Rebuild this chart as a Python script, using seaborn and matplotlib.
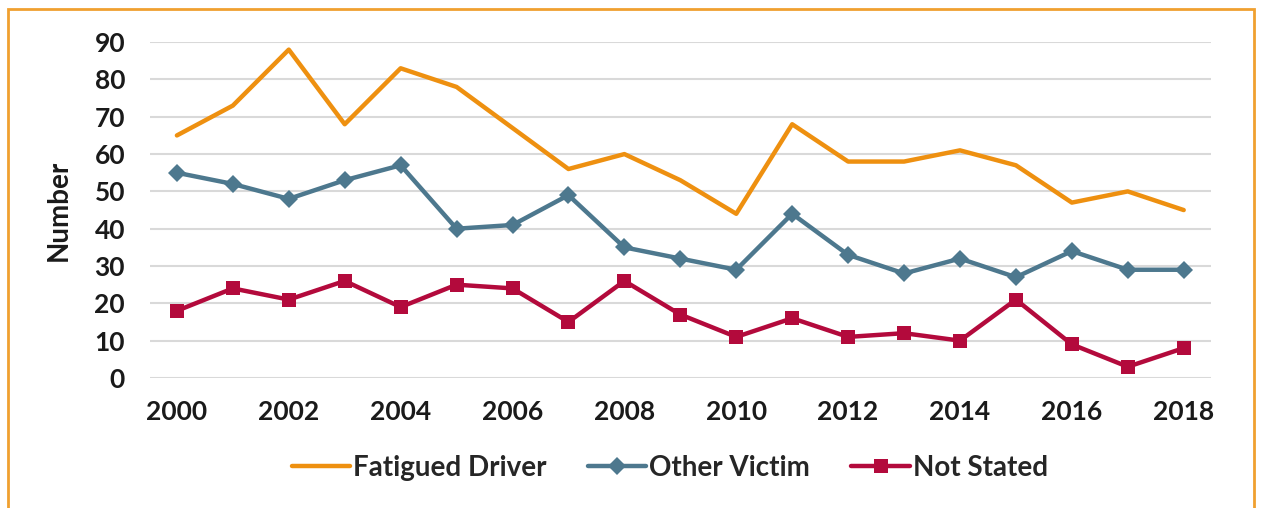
import pandas as pd
import matplotlib.pyplot as plt
import seaborn as sns
from matplotlib.patches import Rectangle

years = list(range(2000, 2019))
fatigued = [65, 73, 88, 68, 83, 78, 67, 56, 60, 53, 44, 68, 58, 58, 61, 57, 47, 50, 45]
other = [55, 52, 48, 53, 57, 40, 41, 49, 35, 32, 29, 44, 33, 28, 32, 27, 34, 29, 29]
not_stated = [18, 24, 21, 26, 19, 25, 24, 15, 26, 17, 11, 16, 11, 12, 10, 21, 9, 3, 8]

series = ['Fatigued Driver', 'Other Victim', 'Not Stated']
colors = {'Fatigued Driver': '#EE9010', 'Other Victim': '#4D788E', 'Not Stated': '#B30A3C'}
markers = {'Fatigued Driver': None, 'Other Victim': 'D', 'Not Stated': 's'}

df = pd.DataFrame({'year': years * 3,
                   'value': fatigued + other + not_stated,
                   'series': [s for s in series for _ in years]})

sns.set_theme(style='white')
plt.rcParams['font.family'] = ['Lato', 'DejaVu Sans']

fig = plt.figure(figsize=(12.61, 5.08), dpi=100)
ax = fig.add_axes([0.119, 0.256, 0.841, 0.661])

for s in series:
    sub = df[df['series'] == s]
    sns.lineplot(data=sub, x='year', y='value', ax=ax, color=colors[s],
                 linewidth=3.2, marker=markers[s], markersize=9.5,
                 markeredgewidth=0, label=s)

ax.set_xlim(1999.52, 2018.48)
ax.set_ylim(0, 90)
ax.set_xticks(range(2000, 2019, 2))
ax.set_yticks(range(0, 91, 10))
ax.grid(axis='y', color='#d9d9d9', linewidth=1.5)
ax.set_axisbelow(True)
for sp in ax.spines.values():
    sp.set_visible(False)
ax.tick_params(axis='y', length=0, labelsize=19, pad=18)
ax.tick_params(axis='x', length=0, labelsize=19, pad=16)
for lab in ax.get_xticklabels() + ax.get_yticklabels():
    lab.set_fontweight('bold')
    lab.set_color('#1a1a1a')
ax.set_xlabel('')
ax.set_ylabel('Number', fontsize=20, fontweight='bold', color='#1a1a1a', labelpad=16)

ax.legend(loc='center', bbox_to_anchor=(0.49, -0.268), ncol=3, frameon=False,
          handlelength=2.1, handletextpad=0.1, columnspacing=1.5,
          prop={'weight': 'bold', 'size': 20})

fig.patches.append(Rectangle((8 / 1261, -0.05), 1246 / 1261, 1.05 - 9 / 508,
                             transform=fig.transFigure, fill=False,
                             edgecolor='#F0A030', linewidth=2))

fig.savefig('out.png', dpi=100)
